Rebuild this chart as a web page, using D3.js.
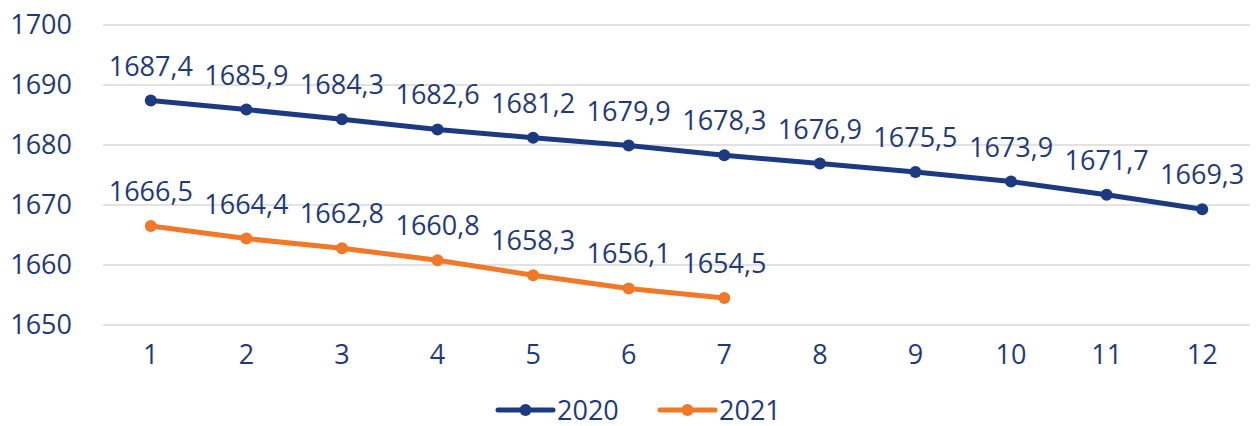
<!DOCTYPE html>
<html lang="en">
<head>
<meta charset="utf-8" />
<script src="https://cdn.jsdelivr.net/npm/d3@7"></script>
<style>
  body { margin: 0; background: #fff; }
</style>
</head>
<body>
<svg id="chart" width="1257" height="426"></svg>
<script>
// data
const months = [1, 2, 3, 4, 5, 6, 7, 8, 9, 10, 11, 12];
const values2020 = [1687.4, 1685.9, 1684.3, 1682.6, 1681.2, 1679.9, 1678.3, 1676.9, 1675.5, 1673.9, 1671.7, 1669.3];
const values2021 = [1666.5, 1664.4, 1662.8, 1660.8, 1658.3, 1656.1, 1654.5];
const yTicks = [1650, 1660, 1670, 1680, 1690, 1700];
const seriesNames = ["2020", "2021"];

const colors = { "2020": "#1c3a82", "2021": "#f07827" };
const textColor = "#1f3a7c";
const font = "Open Sans, sans-serif";
const fontSize = "27px";

const svg = d3.select("#chart").attr("font-family", font);

const margin = { top: 25, right: 7, bottom: 101, left: 103 };
const innerWidth = 1257 - margin.left - margin.right;
const innerHeight = 426 - margin.top - margin.bottom;

const g = svg.append("g")
  .attr("transform", `translate(${margin.left}, ${margin.top})`);

const xScale = d3.scaleBand().domain(months).range([0, innerWidth]);
const xPos = (m) => xScale(m) + xScale.bandwidth() / 2;
const yScale = d3.scaleLinear().domain([1650, 1700]).range([innerHeight, 0]);

// gridlines
g.selectAll(".grid")
  .data(yTicks)
  .enter()
  .append("line")
  .attr("x1", 0)
  .attr("x2", innerWidth)
  .attr("y1", (d) => yScale(d))
  .attr("y2", (d) => yScale(d))
  .attr("stroke", "#d9d9d9")
  .attr("stroke-width", 1.5);

// y axis
const yAxis = g.append("g")
  .call(d3.axisLeft(yScale).tickValues(yTicks).tickSize(0).tickPadding(31).tickFormat(d3.format("d")));
yAxis.select(".domain").remove();
yAxis.selectAll("text")
  .attr("fill", textColor)
  .style("font-size", fontSize)
  .style("font-family", font);

// x axis
const xAxis = g.append("g")
  .attr("transform", `translate(0, ${innerHeight})`)
  .call(d3.axisBottom(xScale).tickSize(0).tickPadding(20));
xAxis.select(".domain").remove();
xAxis.selectAll("text")
  .attr("fill", textColor)
  .style("font-size", fontSize)
  .style("font-family", font);

const series = [
  { name: "2020", values: values2020 },
  { name: "2021", values: values2021 }
];

const line = d3.line()
  .x((d, i) => xPos(months[i]))
  .y((d) => yScale(d));

const fmt = (v) => d3.format(".1f")(v).replace(".", ",");

series.forEach((s) => {
  g.append("path")
    .attr("d", line(s.values))
    .attr("fill", "none")
    .attr("stroke", colors[s.name])
    .attr("stroke-width", 5)
    .attr("stroke-linecap", "round")
    .attr("stroke-linejoin", "round");

  g.selectAll(".pt-" + s.name)
    .data(s.values)
    .enter()
    .append("circle")
    .attr("cx", (d, i) => xPos(months[i]))
    .attr("cy", (d) => yScale(d))
    .attr("r", 6)
    .attr("fill", colors[s.name]);

  g.selectAll(".lbl-" + s.name)
    .data(s.values)
    .enter()
    .append("text")
    .attr("x", (d, i) => xPos(months[i]))
    .attr("y", (d) => yScale(d) - 25)
    .attr("text-anchor", "middle")
    .attr("fill", textColor)
    .style("font-size", fontSize)
    .text((d) => fmt(d));
});

// legend
const legend = svg.append("g").attr("transform", "translate(498, 410)");
const legendItem = legend.selectAll(".legend-item")
  .data(seriesNames)
  .enter()
  .append("g")
  .attr("transform", (d, i) => `translate(${i * 162}, 0)`);
legendItem.append("line")
  .attr("x1", 0).attr("x2", 55)
  .attr("stroke", (d) => colors[d])
  .attr("stroke-width", 5)
  .attr("stroke-linecap", "round");
legendItem.append("circle")
  .attr("cx", 27.5)
  .attr("r", 6)
  .attr("fill", (d) => colors[d]);
legendItem.append("text")
  .attr("x", 59)
  .attr("y", 10)
  .attr("fill", textColor)
  .style("font-size", fontSize)
  .text((d) => d);
</script>
</body>
</html>
